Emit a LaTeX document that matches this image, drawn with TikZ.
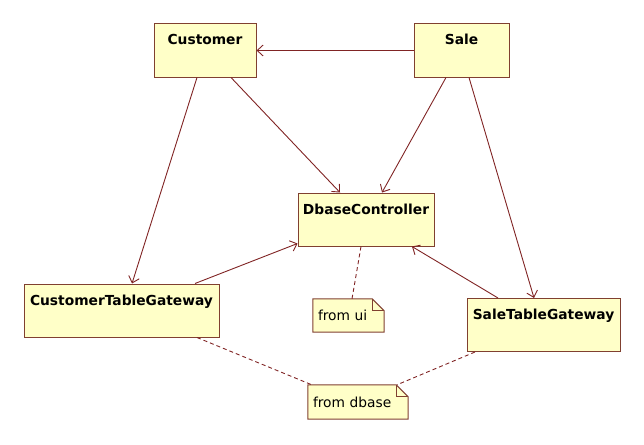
\documentclass[tikz,border=0pt]{standalone}
\usepackage{fontspec}
\setmainfont{DejaVu Sans}
\usetikzlibrary{arrows.meta, backgrounds}

\definecolor{classfill}{RGB}{255,255,200}
\definecolor{classline}{RGB}{128,64,48}
\definecolor{assocline}{RGB}{128,36,36}

\tikzset{
    umlclass/.style={draw=classline, fill=classfill, line width=1pt, inner sep=0pt,
        text height=21pt, text depth=32pt, align=center,
        font=\bfseries\fontsize{13.8}{16}\selectfont},
    umlnote/.style={inner xsep=5pt, inner ysep=0pt, align=left,
        font=\fontsize{13.8}{16}\selectfont},
    assoc/.style={assocline, line width=0.9pt, -{Straight Barb[length=6pt,width=11pt]}},
    noteline/.style={assocline, line width=0.9pt, dash pattern=on 4pt off 3pt},
}

\begin{document}
\begin{tikzpicture}[x=1pt, y=-1pt]
    \useasboundingbox (0, 0) rectangle (644, 444);

    \node[umlclass, minimum width=102pt] (customer) at (205, 50.5) {Customer};
    \node[umlclass, minimum width=95pt] (sale) at (461.5, 50.5) {Sale};
    \node[umlclass, minimum width=136pt] (dbase) at (366, 219.5) {DbaseController};
    \node[umlclass, minimum width=195pt] (custgw) at (121.5, 310.5) {CustomerTableGateway};
    \node[umlclass, minimum width=153pt] (salegw) at (543.5, 325) {SaleTableGateway};

    \node[umlnote, text width=61pt, minimum height=33pt] (uinote) at (348.5, 315.5) {from ui};
    \node[umlnote, text width=90pt, minimum height=34pt] (dbasenote) at (358, 402) {from dbase};

    \begin{scope}[on background layer]
        \foreach \n in {uinote, dbasenote} {
            \filldraw[draw=classline, fill=classfill, line width=1pt]
                (\n.north west) -- ([xshift=-12pt]\n.north east) -- ([yshift=-12pt]\n.north east)
                -- (\n.south east) -- (\n.south west) -- cycle;
            \draw[classline, line width=1pt] ([xshift=-12pt]\n.north east) |- ([yshift=-12pt]\n.north east);
        }
    \end{scope}

    \draw[assoc] (sale.west) -- (customer.east);
    \draw[assoc] ([xshift=26pt]customer.south) -- ([xshift=-26pt]dbase.north);
    \draw[assoc] ([xshift=-15.5pt]sale.south) -- ([xshift=16pt]dbase.north);
    \draw[assoc] ([xshift=-8pt]customer.south) -- ([xshift=10.5pt]custgw.north);
    \draw[assoc] ([xshift=7.5pt]sale.south) -- ([xshift=-9.5pt]salegw.north);
    \draw[assoc] ([xshift=73.5pt]custgw.north) -- ([yshift=3pt]dbase.south west);
    \draw[assoc] ([xshift=-45.5pt]salegw.north) -- ([xshift=46pt]dbase.south);

    \draw[noteline] ([xshift=-5pt]dbase.south) -- ([xshift=3.5pt]uinote.north);
    \draw[noteline] ([xshift=75.5pt]custgw.south) -- ([xshift=4pt]dbasenote.north west);
    \draw[noteline] ([xshift=-68.5pt]salegw.south) -- ([xshift=39pt]dbasenote.north);

\end{tikzpicture}
\end{document}
